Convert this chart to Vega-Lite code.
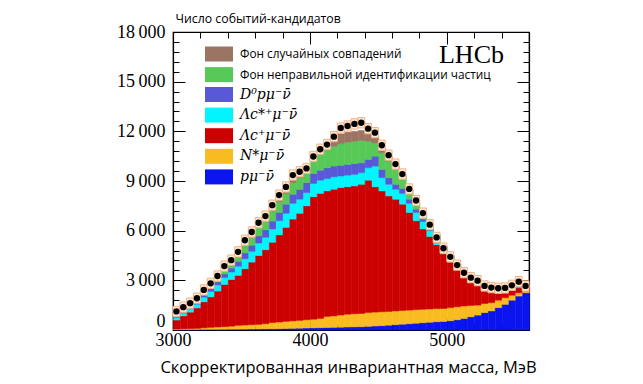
{
  "$schema": "https://vega.github.io/schema/vega-lite/v6.json",
  "width": 356,
  "height": 298,
  "autosize": "none",
  "padding": {"left": 173, "top": 32, "right": 114, "bottom": 54},
  "background": "white",
  "config": {
    "view": {"stroke": "black", "strokeWidth": 1.2},
    "axis": {"grid": false, "domainColor": "black", "domainWidth": 1.2, "tickColor": "black", "tickWidth": 1, "labelColor": "black", "titleColor": "black", "zindex": 1, "labelOverlap": false, "labelFlush": false, "tickCount": 100, "labelFont": "Liberation Serif", "labelFontSize": 18}
  },
  "data": {"values": [
    {"lo":3000,"m":3025,"hi":3050,"s1":30,"s2":30,"s3":540,"s4":150,"s5":100,"s6":150,"s7":80,"d":1120},
    {"lo":3050,"m":3075,"hi":3100,"s1":30,"s2":40,"s3":780,"s4":170,"s5":100,"s6":160,"s7":60,"d":1380},
    {"lo":3100,"m":3125,"hi":3150,"s1":30,"s2":50,"s3":1000,"s4":200,"s5":110,"s6":150,"s7":60,"d":1620},
    {"lo":3150,"m":3175,"hi":3200,"s1":35,"s2":65,"s3":1230,"s4":230,"s5":130,"s6":160,"s7":50,"d":1920},
    {"lo":3200,"m":3225,"hi":3250,"s1":35,"s2":95,"s3":1570,"s4":280,"s5":150,"s6":190,"s7":60,"d":2420},
    {"lo":3250,"m":3275,"hi":3300,"s1":40,"s2":120,"s3":1840,"s4":330,"s5":170,"s6":210,"s7":70,"d":2820},
    {"lo":3300,"m":3325,"hi":3350,"s1":40,"s2":140,"s3":2170,"s4":370,"s5":190,"s6":230,"s7":80,"d":3260},
    {"lo":3350,"m":3375,"hi":3400,"s1":45,"s2":155,"s3":2550,"s4":420,"s5":220,"s6":270,"s7":100,"d":3860},
    {"lo":3400,"m":3425,"hi":3450,"s1":50,"s2":180,"s3":2820,"s4":450,"s5":240,"s6":290,"s7":120,"d":4220},
    {"lo":3450,"m":3475,"hi":3500,"s1":50,"s2":230,"s3":3020,"s4":550,"s5":300,"s6":350,"s7":120,"d":4720},
    {"lo":3500,"m":3525,"hi":3550,"s1":55,"s2":245,"s3":3400,"s4":600,"s5":350,"s6":450,"s7":180,"d":5420},
    {"lo":3550,"m":3575,"hi":3600,"s1":60,"s2":260,"s3":3780,"s4":650,"s5":370,"s6":480,"s7":200,"d":5920},
    {"lo":3600,"m":3625,"hi":3650,"s1":65,"s2":275,"s3":4160,"s4":750,"s5":430,"s6":520,"s7":180,"d":6480},
    {"lo":3650,"m":3675,"hi":3700,"s1":70,"s2":310,"s3":4470,"s4":750,"s5":450,"s6":550,"s7":180,"d":6880},
    {"lo":3700,"m":3725,"hi":3750,"s1":75,"s2":375,"s3":4850,"s4":800,"s5":480,"s6":620,"s7":200,"d":7540},
    {"lo":3750,"m":3775,"hi":3800,"s1":80,"s2":400,"s3":5270,"s4":850,"s5":500,"s6":650,"s7":230,"d":8150},
    {"lo":3800,"m":3825,"hi":3850,"s1":90,"s2":430,"s3":5680,"s4":850,"s5":550,"s6":650,"s7":230,"d":8640},
    {"lo":3850,"m":3875,"hi":3900,"s1":100,"s2":450,"s3":6150,"s4":950,"s5":550,"s6":700,"s7":250,"d":9360},
    {"lo":3900,"m":3925,"hi":3950,"s1":110,"s2":470,"s3":6470,"s4":850,"s5":600,"s6":700,"s7":250,"d":9560},
    {"lo":3950,"m":3975,"hi":4000,"s1":120,"s2":500,"s3":6880,"s4":800,"s5":600,"s6":700,"s7":200,"d":9760},
    {"lo":4000,"m":4025,"hi":4050,"s1":130,"s2":520,"s3":7400,"s4":800,"s5":600,"s6":850,"s7":200,"d":10480},
    {"lo":4050,"m":4075,"hi":4100,"s1":140,"s2":560,"s3":7550,"s4":800,"s5":600,"s6":950,"s7":250,"d":10920},
    {"lo":4100,"m":4125,"hi":4150,"s1":150,"s2":670,"s3":7580,"s4":750,"s5":650,"s6":1100,"s7":250,"d":11200},
    {"lo":4150,"m":4175,"hi":4200,"s1":160,"s2":690,"s3":7650,"s4":750,"s5":650,"s6":1200,"s7":450,"d":11680},
    {"lo":4200,"m":4225,"hi":4250,"s1":170,"s2":730,"s3":7700,"s4":700,"s5":650,"s6":1300,"s7":600,"d":12200},
    {"lo":4250,"m":4275,"hi":4300,"s1":180,"s2":770,"s3":7700,"s4":700,"s5":650,"s6":1350,"s7":600,"d":12320},
    {"lo":4300,"m":4325,"hi":4350,"s1":190,"s2":790,"s3":7720,"s4":700,"s5":650,"s6":1350,"s7":600,"d":12450},
    {"lo":4350,"m":4375,"hi":4400,"s1":200,"s2":800,"s3":7800,"s4":700,"s5":600,"s6":1350,"s7":600,"d":12520},
    {"lo":4400,"m":4425,"hi":4450,"s1":220,"s2":830,"s3":8000,"s4":750,"s5":500,"s6":1100,"s7":500,"d":12160},
    {"lo":4450,"m":4475,"hi":4500,"s1":240,"s2":840,"s3":7570,"s4":1250,"s5":600,"s6":800,"s7":400,"d":11920},
    {"lo":4500,"m":4525,"hi":4550,"s1":260,"s2":840,"s3":7300,"s4":800,"s5":500,"s6":1000,"s7":300,"d":11160},
    {"lo":4550,"m":4575,"hi":4600,"s1":290,"s2":830,"s3":6980,"s4":700,"s5":400,"s6":1000,"s7":250,"d":10560},
    {"lo":4600,"m":4625,"hi":4650,"s1":320,"s2":830,"s3":6750,"s4":600,"s5":300,"s6":900,"s7":200,"d":10020},
    {"lo":4650,"m":4675,"hi":4700,"s1":350,"s2":830,"s3":6420,"s4":650,"s5":300,"s6":700,"s7":100,"d":9420},
    {"lo":4700,"m":4725,"hi":4750,"s1":380,"s2":820,"s3":5900,"s4":550,"s5":250,"s6":500,"s7":80,"d":8520},
    {"lo":4750,"m":4775,"hi":4800,"s1":410,"s2":820,"s3":5370,"s4":500,"s5":200,"s6":400,"s7":70,"d":7820},
    {"lo":4800,"m":4825,"hi":4850,"s1":440,"s2":810,"s3":4850,"s4":450,"s5":150,"s6":300,"s7":50,"d":7060},
    {"lo":4850,"m":4875,"hi":4900,"s1":470,"s2":800,"s3":4380,"s4":350,"s5":130,"s6":220,"s7":50,"d":6360},
    {"lo":4900,"m":4925,"hi":4950,"s1":500,"s2":790,"s3":3860,"s4":300,"s5":100,"s6":150,"s7":40,"d":5590},
    {"lo":4950,"m":4975,"hi":5000,"s1":520,"s2":780,"s3":3300,"s4":200,"s5":80,"s6":120,"s7":40,"d":4940},
    {"lo":5000,"m":5025,"hi":5050,"s1":560,"s2":790,"s3":2750,"s4":180,"s5":70,"s6":100,"s7":40,"d":4420},
    {"lo":5050,"m":5075,"hi":5100,"s1":620,"s2":780,"s3":2250,"s4":150,"s5":50,"s6":100,"s7":30,"d":3920},
    {"lo":5100,"m":5125,"hi":5150,"s1":700,"s2":750,"s3":1800,"s4":100,"s5":40,"s6":80,"s7":30,"d":3460},
    {"lo":5150,"m":5175,"hi":5200,"s1":800,"s2":680,"s3":1470,"s4":80,"s5":30,"s6":70,"s7":30,"d":3160},
    {"lo":5200,"m":5225,"hi":5250,"s1":900,"s2":600,"s3":1250,"s4":60,"s5":20,"s6":60,"s7":30,"d":2980},
    {"lo":5250,"m":5275,"hi":5300,"s1":1050,"s2":550,"s3":900,"s4":40,"s5":20,"s6":50,"s7":30,"d":2660},
    {"lo":5300,"m":5325,"hi":5350,"s1":1150,"s2":500,"s3":730,"s4":30,"s5":20,"s6":50,"s7":30,"d":2560},
    {"lo":5350,"m":5375,"hi":5400,"s1":1350,"s2":450,"s3":500,"s4":20,"s5":20,"s6":50,"s7":30,"d":2520},
    {"lo":5400,"m":5425,"hi":5450,"s1":1550,"s2":400,"s3":330,"s4":20,"s5":20,"s6":60,"s7":40,"d":2540},
    {"lo":5450,"m":5475,"hi":5500,"s1":1800,"s2":300,"s3":300,"s4":20,"s5":20,"s6":60,"s7":40,"d":2700},
    {"lo":5500,"m":5525,"hi":5550,"s1":2050,"s2":200,"s3":300,"s4":20,"s5":20,"s6":60,"s7":50,"d":2920},
    {"lo":5550,"m":5575,"hi":5600,"s1":2250,"s2":100,"s3":230,"s4":20,"s5":20,"s6":60,"s7":40,"d":2660}
  ]},
  "layer": [
    {
      "layer": [
        {
          "transform": [{"fold": ["s1","s2","s3","s4","s5","s6","s7"], "as": ["comp","val"]}],
          "mark": {"type": "bar", "binSpacing": 0, "strokeWidth": 0.5},
          "encoding": {
            "x": {"field": "lo", "type": "quantitative", "bin": {"binned": true},
              "scale": {"domain": [3000, 5600], "nice": false, "zero": false},
              "axis": {
                "values": [3000,3200,3400,3600,3800,4000,4200,4400,4600,4800,5000,5200,5400,5600],
                "tickCount": 100,
                "labelExpr": "datum.value % 1000 === 0 && datum.value < 5600 ? '' + datum.value : ''",
                "labelOverlap": false, "labelFlush": false,
                "tickSize": {"condition": {"test": "datum.value % 1000 === 0", "value": -12}, "value": -6},
                "labelFont": "Liberation Serif", "labelFontSize": 18, "labelPadding": 22, "labelBaseline": "middle",
                "title": "Скорректированная инвариантная масса, МэВ",
                "titleFont": "Open Sans", "titleFontSize": 16.5, "titleFontWeight": "normal",
                "titleX": 175, "titleAlign": "center",
                "titleY": 42, "titleBaseline": "alphabetic"
              }},
            "x2": {"field": "hi"},
            "y": {"field": "val", "type": "quantitative", "stack": "zero",
              "scale": {"domain": [0, 18000], "nice": false},
              "axis": {
                "values": [0,600,1200,1800,2400,3000,3600,4200,4800,5400,6000,6600,7200,7800,8400,9000,9600,10200,10800,11400,12000,12600,13200,13800,14400,15000,15600,16200,16800,17400,18000],
                "tickCount": 100,
                "labelExpr": "datum.value % 3000 === 0 ? (datum.value === 0 ? '0' : floor(datum.value / 1000) + '\u2009000') : ''",
                "labelOverlap": false, "labelFlush": false,
                "tickSize": {"condition": {"test": "datum.value % 3000 === 0", "value": -12}, "value": -6},
                "labelBaseline": {"condition": {"test": "datum.value === 0", "value": "bottom"}, "value": "middle"},
                "labelFont": "Liberation Serif", "labelFontSize": 18, "labelPadding": 20,
                "title": "Число событий-кандидатов",
                "titleAngle": 0, "titleX": 2, "titleY": -10, "titleAlign": "left", "titleBaseline": "alphabetic",
                "titleFont": "Open Sans", "titleFontSize": 12.3, "titleFontWeight": "normal"
              }},
            "color": {"field": "comp", "type": "nominal",
              "scale": {"domain": ["s1","s2","s3","s4","s5","s6","s7"], "range": ["#0a14ee","#f9bc20","#cc0000","#00f5ff","#5858d8","#57c957","#9c7464"]},
              "legend": null},
            "stroke": {"field": "comp", "type": "nominal",
              "scale": {"domain": ["s1","s2","s3","s4","s5","s6","s7"], "range": ["#0a14ee","#f9bc20","#cc0000","#00f5ff","#5858d8","#57c957","#9c7464"]},
              "legend": null},
            "order": {"field": "comp", "sort": "ascending"}
          }
        },
        {
          "mark": {"type": "point", "shape": "M-1,-1.5H1V1.5H-1Z", "size": 47, "filled": true, "fill": "#fde8d2", "stroke": "#f2b287", "strokeWidth": 1, "opacity": 1},
          "encoding": {
            "x": {"field": "m", "type": "quantitative"},
            "y": {"field": "d", "type": "quantitative"}
          }
        },
        {
          "mark": {"type": "circle", "size": 40, "color": "black", "opacity": 1},
          "encoding": {
            "x": {"field": "m", "type": "quantitative"},
            "y": {"field": "d", "type": "quantitative"}
          }
        },
        {
          "data": {"values": [{"t": "LHCb"}]},
          "mark": {"type": "text", "font": "Liberation Serif", "fontSize": 26, "align": "center", "baseline": "alphabetic", "color": "black"},
          "encoding": {
            "text": {"field": "t"},
            "x": {"datum": 5180, "type": "quantitative"},
            "y": {"datum": 16150, "type": "quantitative"}
          }
        },
        {
          "data": {"values": [{"k": "s7"}, {"k": "s6"}]},
          "mark": {"type": "point", "opacity": 0, "filled": true},
          "encoding": {
            "fill": {"field": "k", "type": "nominal",
              "scale": {"domain": ["s7","s6"], "range": ["#9c7464","#57c957"]},
              "legend": {"orient": "none", "legendX": 38.5, "legendY": 14.5, "title": null, "padding": 0,
                "symbolType": "M-1.867,-1H1.867V1H-1.867Z", "symbolSize": 225, "symbolOpacity": 1, "symbolStrokeWidth": 0,
                "labelFont": "Open Sans", "labelFontSize": 11.8, "labelColor": "black", "labelOffset": 13.5, "rowPadding": 5.6, "labelLimit": 400,
                "labelExpr": "datum.label === 's7' ? 'Фон случайных совпадений' : 'Фон неправильной идентификации частиц'"}}
          }
        },
        {
          "data": {"values": [{"k": "s5"}, {"k": "s4"}, {"k": "s3"}, {"k": "s2"}, {"k": "s1"}]},
          "mark": {"type": "point", "opacity": 0, "filled": true},
          "encoding": {
            "fill": {"field": "k", "type": "nominal",
              "scale": {"domain": ["s5","s4","s3","s2","s1"], "range": ["#5858d8","#00f5ff","#cc0000","#f9bc20","#0a14ee"]},
              "legend": {"orient": "none", "legendX": 38.5, "legendY": 55, "title": null, "padding": 0,
                "symbolType": "M-1.867,-1H1.867V1H-1.867Z", "symbolSize": 225, "symbolOpacity": 1, "symbolStrokeWidth": 0,
                "labelFont": "DejaVu Serif", "labelFontStyle": "italic", "labelFontSize": 14, "labelColor": "black", "labelOffset": 13.5, "rowPadding": 5.6, "labelLimit": 400,
                "labelExpr": "datum.label === 's5' ? 'D⁰pμ⁻ν̄' : datum.label === 's4' ? 'Λc*⁺μ⁻ν̄' : datum.label === 's3' ? 'Λc⁺μ⁻ν̄' : datum.label === 's2' ? 'N*μ⁻ν̄' : 'pμ⁻ν̄'"}}
          }
        }
      ],
      "resolve": {"scale": {"fill": "independent"}}
    },
    {
      "mark": {"type": "point", "opacity": 0},
      "encoding": {
        "x": {"field": "m", "type": "quantitative",
          "axis": {"orient": "top", "values": [3000,3200,3400,3600,3800,4000,4200,4400,4600,4800,5000,5200,5400,5600], "tickCount": 100, "labels": false, "title": null,
            "tickSize": {"condition": {"test": "datum.value % 1000 === 0", "value": -12}, "value": -6}}},
        "y": {"field": "d", "type": "quantitative",
          "axis": {"orient": "right", "values": [0,600,1200,1800,2400,3000,3600,4200,4800,5400,6000,6600,7200,7800,8400,9000,9600,10200,10800,11400,12000,12600,13200,13800,14400,15000,15600,16200,16800,17400,18000], "tickCount": 100, "labels": false, "title": null,
            "tickSize": {"condition": {"test": "datum.value % 3000 === 0", "value": -12}, "value": -6}}}
      }
    }
  ],
  "resolve": {"axis": {"x": "independent", "y": "independent"}}
}
